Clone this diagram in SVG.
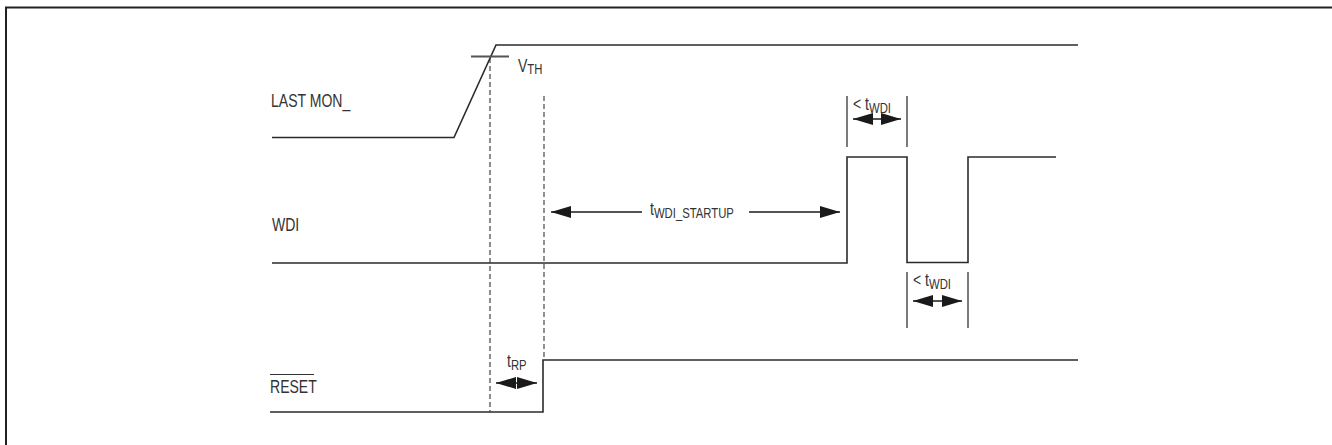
<svg xmlns="http://www.w3.org/2000/svg" width="1332" height="445" viewBox="0 0 1332 445">
<defs>
<style>
.sig{fill:none;stroke:#2b2b2b;stroke-width:1.6}
.dash{fill:none;stroke:#333;stroke-width:1.1;stroke-dasharray:5 3}
.bar{fill:none;stroke:#333;stroke-width:1.3}
.dim{fill:none;stroke:#1a1a1a;stroke-width:1.5;marker-start:url(#ah);marker-end:url(#ah)}
.lbl{font-family:"Liberation Sans",Arial,sans-serif;font-size:18px;fill:#333}
.sub{font-size:14.5px}
</style>
<marker id="ah" markerUnits="userSpaceOnUse" markerWidth="20" markerHeight="12" refX="20" refY="6" orient="auto-start-reverse">
<path d="M0,0 L20,6 L0,12 Z" fill="#1a1a1a"/>
</marker>
</defs>
<rect x="0" y="0" width="1332" height="445" fill="#fff"/>
<path d="M6,446 V7.5 H1333" fill="none" stroke="#222" stroke-width="2"/>
<g id="lastmon">
<path class="sig" d="M272,137.5 H454 L496,45 H1078"/>
<text class="lbl" transform="translate(271,107) scale(0.78,1)">LAST MON_</text>
</g>
<g id="vth">
<line x1="471" y1="56.5" x2="509" y2="56.5" stroke="#555" stroke-width="2.2"/>
<text class="lbl" transform="translate(518,72) scale(0.78,1)">V<tspan class="sub" dy="2">TH</tspan></text>
</g>
<g id="wdi">
<path class="sig" d="M272,263 H847 V157 H907 V262.5 H968 V157 H1056"/>
<text class="lbl" transform="translate(272,231) scale(0.78,1)">WDI</text>
</g>
<g id="reset">
<path class="sig" d="M270,412 H543 V360 H1078"/>
<text class="lbl" transform="translate(270,393) scale(0.78,1)">RESET</text>
<line x1="270" y1="374.5" x2="314" y2="374.5" stroke="#333" stroke-width="1.2"/>
</g>
<g id="connectors">
<line class="dash" x1="490" y1="58" x2="490" y2="412"/>
<line class="dash" x1="544" y1="96" x2="544" y2="360"/>
<line class="dim" x1="496" y1="383" x2="537" y2="383"/>
<line class="dim" x1="642" y1="212" x2="551" y2="212" style="marker-start:none"/>
<line class="dim" x1="749" y1="212" x2="840" y2="212" style="marker-start:none"/>
<line class="bar" x1="847" y1="96" x2="847" y2="147"/>
<line class="bar" x1="907" y1="96" x2="907" y2="147"/>
<line class="dim" x1="853" y1="119" x2="901" y2="119"/>
<line class="bar" x1="907" y1="272" x2="907" y2="328"/>
<line class="bar" x1="968" y1="272" x2="968" y2="328"/>
<line class="dim" x1="913" y1="301" x2="962" y2="301"/>
</g>
<g id="labels">
<text class="lbl" transform="translate(507,367) scale(0.78,1)">t<tspan class="sub" dy="3">RP</tspan></text>
<text class="lbl" transform="translate(650,215) scale(0.78,1)">t<tspan class="sub" dy="3">WDI_STARTUP</tspan></text>
<text class="lbl" transform="translate(853,110) scale(0.78,1)">&lt; t<tspan class="sub" dy="3">WDI</tspan></text>
<text class="lbl" transform="translate(913,286) scale(0.78,1)">&lt; t<tspan class="sub" dy="3">WDI</tspan></text>
</g>
</svg>
